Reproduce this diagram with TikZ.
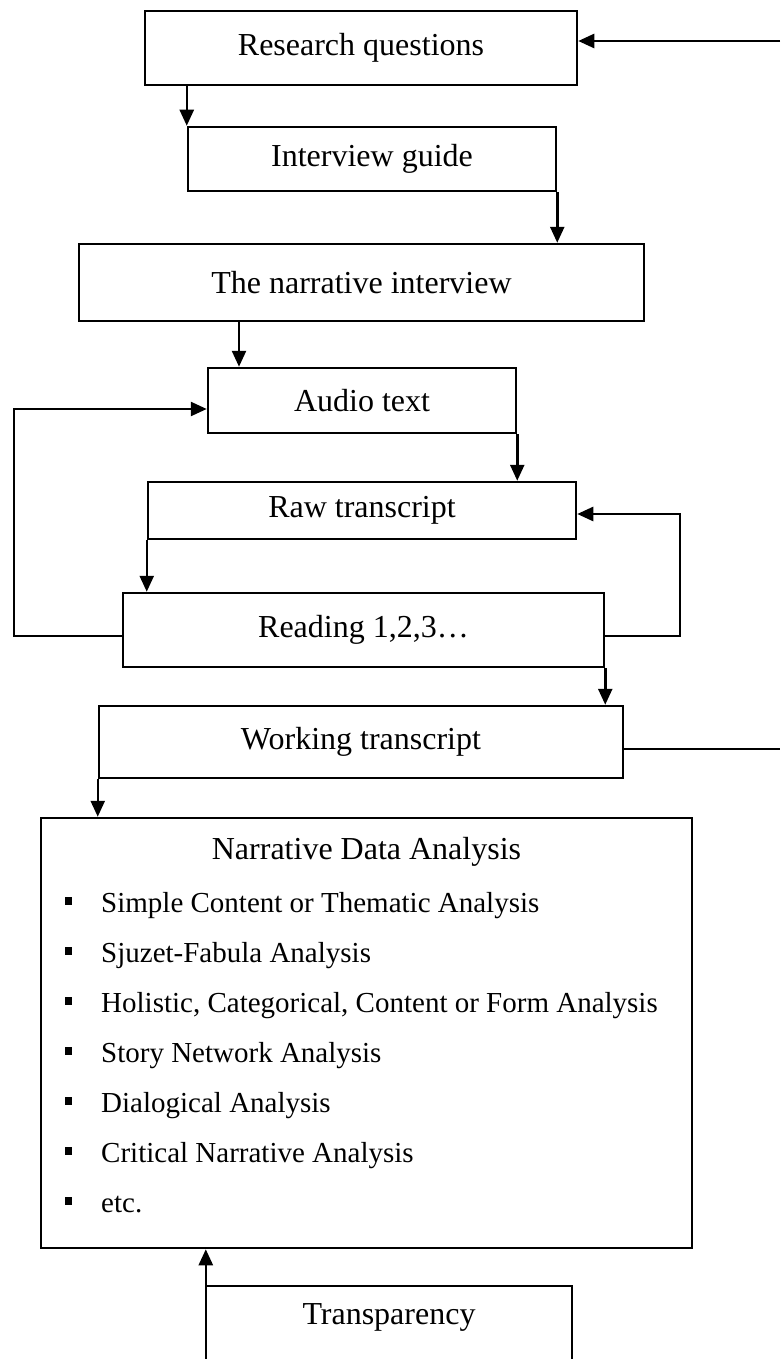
\documentclass[tikz,border=0pt]{standalone}
\usepackage{fontspec}
\setmainfont{Liberation Serif}
\usetikzlibrary{arrows.meta}
\newcommand{\boxfont}{\fontsize{32}{38}\selectfont}
\newcommand{\itemfont}{\fontsize{29}{34}\selectfont}
\begin{document}
\begin{tikzpicture}[x=1pt,y=-1pt,
  box/.style={draw, line width=2.5pt, inner sep=0pt, font=\boxfont},
  arr/.style={-{Triangle[length=16pt,width=14pt]}, line width=2.5pt},
  lne/.style={line width=2.5pt},
  lbl/.style={inner sep=0pt, font=\boxfont},
  itm/.style={inner sep=0pt, font=\itemfont, anchor=base west},
  bul/.style={fill, inner sep=0pt, minimum size=7.5pt}]
\path[use as bounding box, clip] (0,0) rectangle (780,1359);
\fill[white] (0,0) rectangle (780,1359);

% boxes
\node[box, minimum width=432, minimum height=74] (rq) at (361,48) {Research questions};
\node[box, minimum width=368, minimum height=64] (ig) at (372,159) {Interview guide};
\node[box, minimum width=565, minimum height=77] (tni) at (361.5,282.5) {The narrative interview};
\node[box, minimum width=308, minimum height=65] (at) at (362,400.5) {Audio text};
\node[box, minimum width=428, minimum height=57] (raw) at (362,510.5) {Raw transcript};
\node[box, minimum width=481, minimum height=74] (rd) at (363.5,630) {Reading 1,2,3…};
\node[box, minimum width=524, minimum height=72] (wt) at (361,742) {Working transcript};
\node[box, minimum width=651, minimum height=430] (nda) at (366.5,1033) {};

% NDA content
\node[lbl, anchor=base] (ndat) at (366.5,859) {Narrative Data Analysis};
\node[itm] (i1) at (101,912) {Simple Content or Thematic Analysis};
\node[itm] (i2) at (101,962) {Sjuzet-Fabula Analysis};
\node[itm] (i3) at (101,1012) {Holistic, Categorical, Content or Form Analysis};
\node[itm] (i4) at (101,1062) {Story Network Analysis};
\node[itm] (i5) at (101,1112) {Dialogical Analysis};
\node[itm] (i6) at (101,1162) {Critical Narrative Analysis};
\node[itm] (i7) at (101,1212) {etc.};
\node[bul] (b1) at (68.5,901) {};
\node[bul] (b2) at (68.5,951) {};
\node[bul] (b3) at (68.5,1001) {};
\node[bul] (b4) at (68.5,1051) {};
\node[bul] (b5) at (68.5,1101) {};
\node[bul] (b6) at (68.5,1151) {};
\node[bul] (b7) at (68.5,1201) {};

% Transparency (open at bottom)
\node[lbl, minimum width=366, minimum height=62] (tr) at (389,1317) {Transparency};
\draw[lne] (tr.north west |- 0,1370) -- (tr.north west) -- (tr.north east) -- (tr.north east |- 0,1370);

% connectors
\coordinate (topin) at (780,41);
\coordinate (wtout) at (780,749);
\draw[arr] (topin) -- (rq.east |- topin);
\draw[arr] (ig.north west |- rq.south) -- (ig.north west);
\draw[arr] (ig.south east) -- (ig.south east |- tni.north);
\draw[arr] (tni.south -| 239,0) -- (at.north -| 239,0);
\draw[arr] (at.south east) -- (at.east |- raw.north);
\draw[arr] (raw.south west) -- (raw.west |- rd.north);
\draw[arr] (rd.south east) -- (rd.east |- wt.north);
\draw[arr] (wt.south west) -- (wt.west |- nda.north);
\draw[arr] (tr.north west) -- (tr.north west |- nda.south);
\draw[arr] (rd.west |- 0,636) -- (14,636) -- (14,409) -- (at.west |- 0,409);
\draw[arr] (rd.east |- 0,636) -- (680,636) -- (680,514) -- (raw.east |- 0,514);
\draw[lne] (wt.east |- wtout) -- (wtout);
\end{tikzpicture}
\end{document}
